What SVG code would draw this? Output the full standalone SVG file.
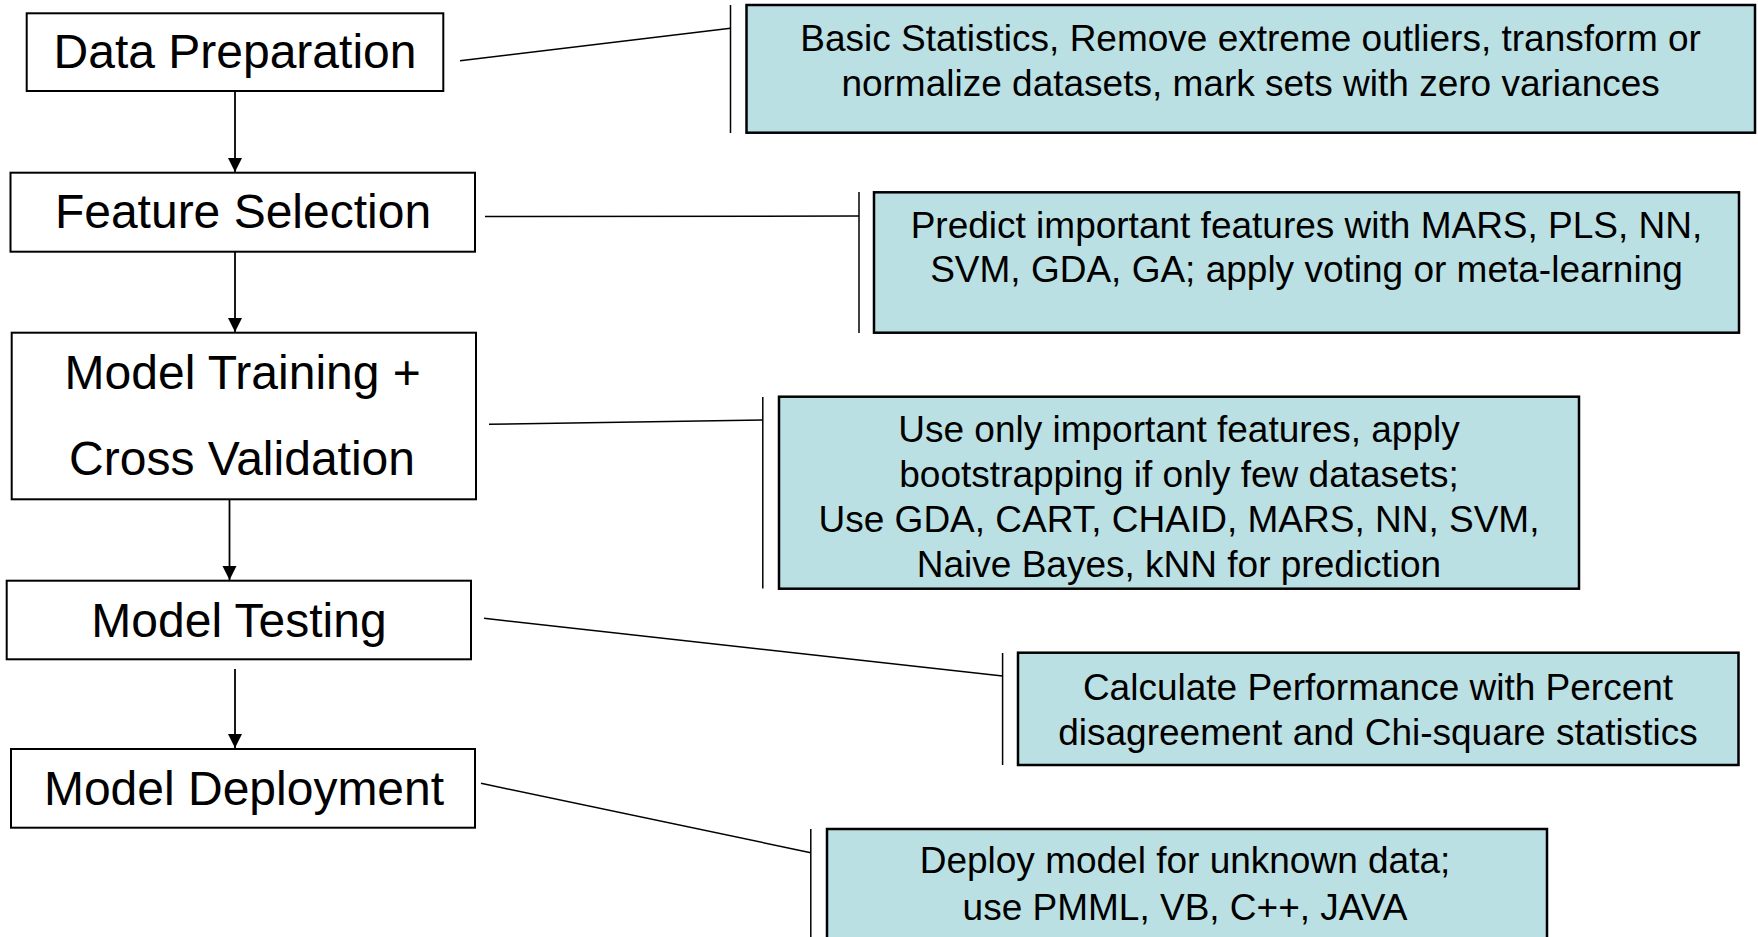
<svg xmlns="http://www.w3.org/2000/svg" width="1758" height="937" viewBox="0 0 1758 937">
<defs>
<style>
.step rect{fill:#ffffff;stroke:#000;stroke-width:2}
.step text{font-family:"Liberation Sans",Arial,sans-serif;font-size:48px;fill:#000;text-anchor:middle}
.note rect{fill:#BBE0E3;stroke:#000;stroke-width:2.5}
.note text{font-family:"Liberation Sans",Arial,sans-serif;font-size:37px;fill:#000;text-anchor:middle}
.bracket{stroke:#000;stroke-width:1.5;fill:none}
.link{stroke:#000;stroke-width:1.5;fill:none}
.flow{stroke:#000;stroke-width:1.8;fill:none;marker-end:url(#arr)}
</style>
<marker id="arr" viewBox="0 0 10 10" refX="10" refY="5" markerWidth="8" markerHeight="9" markerUnits="strokeWidth" orient="auto">
<path d="M0,0 L10,5 L0,10 z" fill="#000"/>
</marker>
</defs>
<rect width="1758" height="937" fill="#ffffff"/>

<g id="connectors">
<line class="flow" x1="235" y1="92" x2="235" y2="172"/>
<line class="flow" x1="235" y1="252" x2="235" y2="332"/>
<line class="flow" x1="229.5" y1="499" x2="229.5" y2="580"/>
<line class="flow" x1="235" y1="669" x2="235" y2="748"/>
<line class="link" x1="460" y1="60.7" x2="730.5" y2="28.3"/>
<line class="link" x1="485" y1="216.5" x2="859" y2="216"/>
<line class="link" x1="489" y1="424.3" x2="762.8" y2="420"/>
<line class="link" x1="484" y1="618.3" x2="1002.6" y2="676"/>
<line class="link" x1="481" y1="783.3" x2="810.8" y2="852.7"/>
<line class="bracket" x1="730.5" y1="5" x2="730.5" y2="133"/>
<line class="bracket" x1="859" y1="192" x2="859" y2="333"/>
<line class="bracket" x1="762.8" y1="397" x2="762.8" y2="588.5"/>
<line class="bracket" x1="1002.6" y1="653" x2="1002.6" y2="765"/>
<line class="bracket" x1="810.8" y1="829" x2="810.8" y2="937"/>
</g>

<g id="data-preparation" class="step">
<rect x="26.7" y="13.3" width="416.6" height="77.7"/>
<text x="235" y="68.3">Data Preparation</text>
</g>
<g id="feature-selection" class="step">
<rect x="10.5" y="172.7" width="464.5" height="79"/>
<text x="243" y="228.3">Feature Selection</text>
</g>
<g id="model-training" class="step">
<rect x="11.7" y="332.7" width="464.3" height="166.6"/>
<text x="242.7" y="389">Model Training +</text>
<text x="242" y="475">Cross Validation</text>
</g>
<g id="model-testing" class="step">
<rect x="6.7" y="580.7" width="464.3" height="78.6"/>
<text x="239" y="637.3">Model Testing</text>
</g>
<g id="model-deployment" class="step">
<rect x="11" y="749" width="464" height="78.7"/>
<text x="244" y="805">Model Deployment</text>
</g>

<g id="note-data-preparation" class="note">
<rect x="746.5" y="5" width="1008.5" height="127.7"/>
<text x="1250.6" y="50.7">Basic Statistics, Remove extreme outliers, transform or</text>
<text x="1250.6" y="95.5">normalize datasets, mark sets with zero variances</text>
</g>
<g id="note-feature-selection" class="note">
<rect x="874" y="192.3" width="865" height="140.4"/>
<text x="1306.5" y="237.7">Predict important features with MARS, PLS, NN,</text>
<text x="1306.5" y="281.7">SVM, GDA, GA; apply voting or meta-learning</text>
</g>
<g id="note-model-training" class="note">
<rect x="779" y="396.7" width="800" height="192"/>
<text x="1179" y="441.7">Use only important features, apply</text>
<text x="1179" y="486.7">bootstrapping if only few datasets;</text>
<text x="1179" y="531.7">Use GDA, CART, CHAID, MARS, NN, SVM,</text>
<text x="1179" y="576.5">Naive Bayes, kNN for prediction</text>
</g>
<g id="note-model-testing" class="note">
<rect x="1018" y="652.7" width="720.5" height="112.3"/>
<text x="1378" y="700">Calculate Performance with Percent</text>
<text x="1378" y="744.5">disagreement and Chi-square statistics</text>
</g>
<g id="note-model-deployment" class="note">
<rect x="827" y="829" width="720" height="120"/>
<text x="1185" y="873.3">Deploy model for unknown data;</text>
<text x="1185" y="920">use PMML, VB, C++, JAVA</text>
</g>
</svg>
